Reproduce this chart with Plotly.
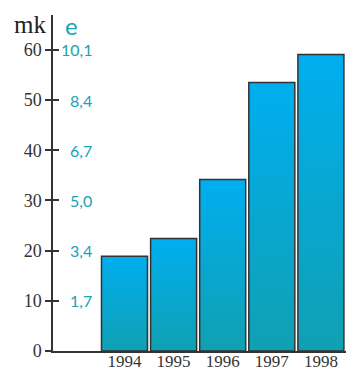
import plotly.graph_objects as go

# Data
years = ["1994", "1995", "1996", "1997", "1998"]
values_mk = [18.9, 22.4, 34.2, 53.5, 59.1]
mk_ticks = [0, 10, 20, 30, 40, 50, 60]
e_ticks = [10, 20, 30, 40, 50, 60]
e_labels = ["1,7", "3,4", "5,0", "6,7", "8,4", "10,1"]

TEAL_TEXT = "#17a3b4"
DARK = "#333333"
SERIF = "Liberation Serif"
SANS = "Lato"
BAR_HALF = 0.4685
Y_RANGE = [0, 66.97]

fig = go.Figure()

# Each bar is a filled rectangle so it can carry its own vertical gradient
for i, (yr, v) in enumerate(zip(years, values_mk)):
    fig.add_trace(go.Scatter(
        x=[i - BAR_HALF, i + BAR_HALF, i + BAR_HALF, i - BAR_HALF, i - BAR_HALF],
        y=[0, 0, v, v, 0],
        mode="lines",
        fill="toself",
        fillgradient=dict(type="vertical",
                          colorscale=[[0, "#10a0b2"], [1, "#00aeef"]]),
        line=dict(color=DARK, width=1.5),
        name=yr,
        hoverinfo="skip",
        showlegend=False,
    ))

# Empty trace that registers the overlay axis carrying the inner tick marks
fig.add_trace(go.Scatter(x=[], y=[], yaxis="y2", showlegend=False,
                         hoverinfo="skip"))

# Secondary scale labels (e), right of the axis
for t, lab in zip(e_ticks, e_labels):
    fig.add_annotation(
        x=(94 - 53) / 293, xref="paper", xanchor="right",
        y=t, yref="y", yanchor="middle",
        text=lab, showarrow=False,
        font=dict(family=SANS, size=16, color=TEAL_TEXT),
    )

# Unit captions at the top of the axis
fig.add_annotation(
    x=-5 / 293, xref="paper", xanchor="right",
    y=(351 - 24) / 336, yref="paper", yanchor="middle",
    text="mk", showarrow=False,
    font=dict(family=SERIF, size=25, color="#222222"),
)
fig.add_annotation(
    x=(63 - 53) / 293, xref="paper", xanchor="left",
    y=(351 - 25) / 336, yref="paper", yanchor="middle",
    text="e", showarrow=False,
    font=dict(family=SANS, size=24, color=TEAL_TEXT),
)

fig.update_layout(
    width=346, height=371,
    margin=dict(l=53, r=0, t=15, b=20, autoexpand=False),
    paper_bgcolor="white", plot_bgcolor="white",
    showlegend=False,
    xaxis=dict(
        range=[-1.456, 4.511], automargin=False,
        tickvals=list(range(len(years))), ticktext=years,
        showline=True, linecolor=DARK, linewidth=1.5,
        ticks="", showgrid=False, zeroline=False,
        ticklabelstandoff=-6,
        tickfont=dict(family=SERIF, size=17, color=DARK),
    ),
    yaxis=dict(
        range=Y_RANGE, automargin=False,
        tickvals=mk_ticks,
        ticks="outside", ticklen=6, tickwidth=1.5, tickcolor=DARK,
        showline=True, linecolor=DARK, linewidth=1.5,
        showgrid=False, zeroline=False,
        tickfont=dict(family=SERIF, size=18, color=DARK),
    ),
    yaxis2=dict(
        range=Y_RANGE, overlaying="y", anchor="x", side="left",
        automargin=False,
        tickvals=mk_ticks,
        ticks="inside", ticklen=6, tickwidth=1.5, tickcolor=DARK,
        showticklabels=False, showline=False,
        showgrid=False, zeroline=False,
    ),
)

fig.write_html("out.html")
